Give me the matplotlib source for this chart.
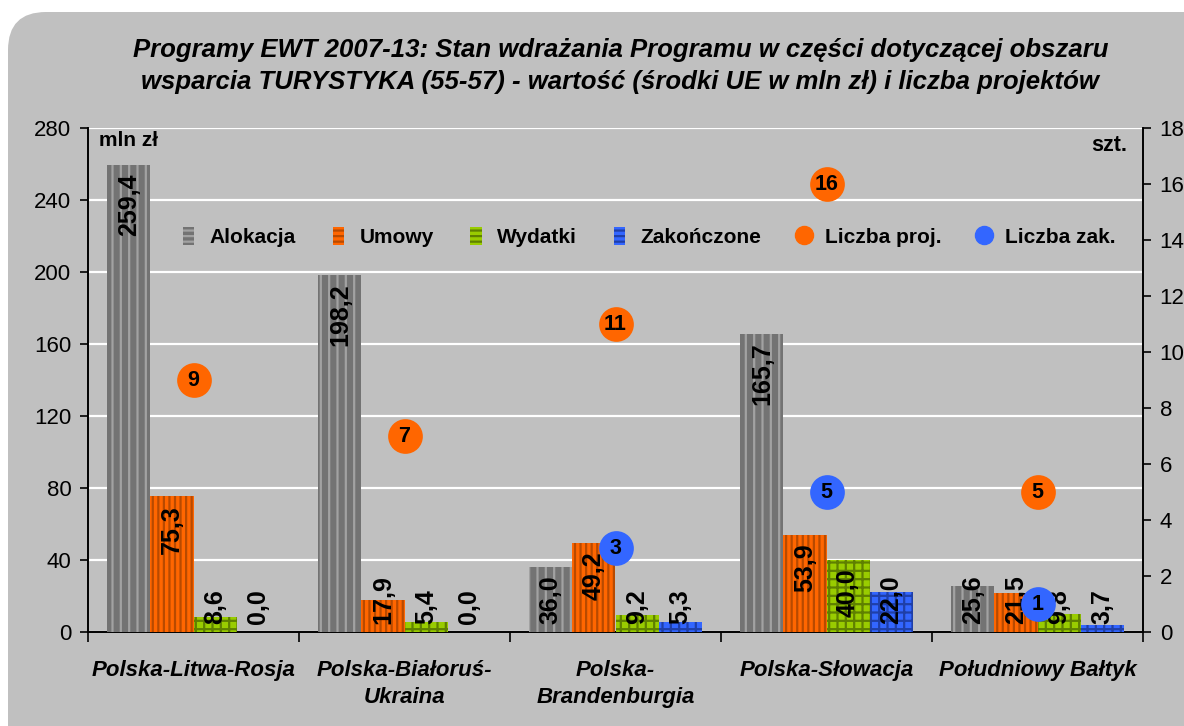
import numpy as np
import matplotlib.pyplot as plt
from matplotlib.patches import FancyBboxPatch
from matplotlib.lines import Line2D
from matplotlib.patches import Patch

plt.rcParams['font.family'] = ['Liberation Sans', 'DejaVu Sans']
plt.rcParams['hatch.linewidth'] = 1.6

categories = ['Polska-Litwa-Rosja', 'Polska-Białoruś-\nUkraina', 'Polska-\nBrandenburgia',
              'Polska-Słowacja', 'Południowy Bałtyk']
alokacja = [259.4, 198.2, 36.0, 165.7, 25.6]
umowy = [75.3, 17.9, 49.2, 53.9, 21.5]
wydatki = [8.6, 5.4, 9.2, 40.0, 9.8]
zakonczone = [0.0, 0.0, 5.3, 22.0, 3.7]
liczba_proj = [9, 7, 11, 16, 5]
liczba_zak = [np.nan, np.nan, 3, 5, 1]

bar_series = [
    ('Alokacja', alokacja, '#737373', '#a2a2a2', '||'),
    ('Umowy', umowy, '#ff6600', '#b84a00', '|||'),
    ('Wydatki', wydatki, '#99cc00', '#5f8000', '++'),
    ('Zakończone', zakonczone, '#3366ff', '#1f3fa8', '++'),
]

BG = '#c0c0c0'
fig = plt.figure(figsize=(11.84, 7.26), dpi=100, facecolor='white')
bg = FancyBboxPatch((0.08, -0.5), 12.5, 7.64, boxstyle='round,pad=0,rounding_size=0.38',
                    transform=fig.dpi_scale_trans, facecolor=BG, edgecolor='none', zorder=-10)
fig.patches.append(bg)

ax = fig.add_axes([88 / 1184, 94 / 726, 1055 / 1184, 504 / 726])
ax.set_facecolor(BG)
ax2 = ax.twinx()

x = np.arange(len(categories))
w = 0.204
bars_all = []
for i, (name, vals, face, hatchc, hatch) in enumerate(bar_series):
    bars = ax.bar(x + (i - 1.5) * w, vals, width=w, color=face, edgecolor=hatchc,
                  hatch=hatch, linewidth=0, zorder=3)
    bars_all.append((bars, vals))

ax.set_xlim(-0.5, 4.5)
ax.set_ylim(0, 280)
ax.set_yticks(np.arange(0, 281, 40))
ax.grid(axis='y', color='white', linewidth=1.6, zorder=0)
ax.set_axisbelow(True)
ax.set_xticks(x)
ax.set_xticklabels(categories, fontsize=16, fontweight='bold', fontstyle='italic',
                   linespacing=1.4, va='top')
ax.tick_params(axis='x', length=0, pad=20)
ax.set_xticks(np.arange(-0.5, 4.6, 1), minor=True)
ax.tick_params(axis='x', which='minor', length=7, width=1.2, direction='out')
ax.tick_params(axis='y', labelsize=16, length=6, width=1.2, pad=6)
for s in ['top', 'right']:
    ax.spines[s].set_visible(False)
ax.spines['left'].set_linewidth(1.4)
ax.spines['bottom'].set_linewidth(1.4)

ax2.set_ylim(0, 18)
ax2.set_yticks(np.arange(0, 19, 2))
ax2.tick_params(axis='y', labelsize=16, length=6, width=1.2, pad=6)
for s in ['top', 'left', 'bottom']:
    ax2.spines[s].set_visible(False)
ax2.spines['right'].set_linewidth(1.4)

ax2.plot(x, liczba_proj, 'o', color='#ff6600', markersize=25, markeredgewidth=0, zorder=5)
ax2.plot(x, liczba_zak, 'o', color='#3366ff', markersize=25, markeredgewidth=0, zorder=5)
for xi, v in zip(x, liczba_proj):
    ax2.text(xi, v, str(v), ha='center', va='center', fontsize=15.5, fontweight='bold', zorder=6)
for xi, v in zip(x, liczba_zak):
    if not np.isnan(v):
        ax2.text(xi, v, str(int(v)), ha='center', va='center', fontsize=15.5,
                 fontweight='bold', zorder=6)

# value labels, inside end of the bar, kept above the axis
labels = []
for bars, vals in bars_all:
    for b, v in zip(bars, vals):
        t = ax.annotate(f'{v:.1f}'.replace('.', ','), xy=(b.get_x() + b.get_width() / 2, v),
                        xytext=(0, -6), textcoords='offset points', rotation=90,
                        ha='center', va='top', fontsize=18, fontweight='bold', zorder=7)
        labels.append((t, b, v))
fig.canvas.draw()
r = fig.canvas.get_renderer()
y0_px = ax.transData.transform((0, 0))[1]
for t, b, v in labels:
    bb = t.get_window_extent(r)
    if bb.y0 < y0_px + 8:
        t.xy = (b.get_x() + b.get_width() / 2, 0)
        t.set_position((0, 5.5))
        t.set_va('bottom')

ax.text(0.01, 0.975, 'mln zł', transform=ax.transAxes, ha='left', va='center',
        fontsize=15, fontweight='bold')
ax.text(0.985, 0.965, 'szt.', transform=ax.transAxes, ha='right', va='center',
        fontsize=15.5, fontweight='bold')

handles = [Patch(facecolor=f, edgecolor=hc, hatch='---', linewidth=0)
           for _, _, f, hc, _ in bar_series]
handles += [Line2D([], [], marker='o', linestyle='', color='#ff6600', markersize=13),
            Line2D([], [], marker='o', linestyle='', color='#3366ff', markersize=13)]
names = [s[0] for s in bar_series] + ['Liczba proj.', 'Liczba zak.']
leg = ax2.legend(handles, names, loc='center', bbox_to_anchor=(0.532, 0.784), ncol=6,
                 frameon=False, prop={'size': 15, 'weight': 'bold'}, handlelength=0.55,
                 handleheight=1.0, handletextpad=0.75, columnspacing=1.75)
leg.set_zorder(8)

fig.text(0.524, 0.909, 'Programy EWT 2007-13: Stan wdrażania Programu w części dotyczącej obszaru\n'
         'wsparcia TURYSTYKA (55-57) - wartość (środki UE w mln zł) i liczba projektów',
         ha='center', va='center', fontsize=18.5, fontweight='bold', fontstyle='italic',
         linespacing=1.42)

fig.savefig('out.png', dpi=100, facecolor='white')
